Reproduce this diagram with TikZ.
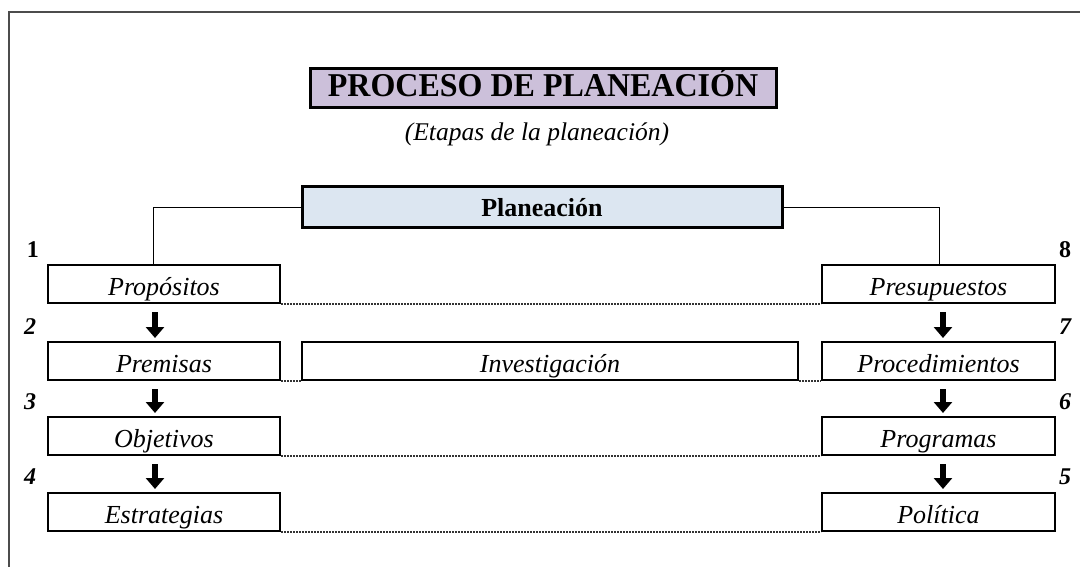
\documentclass[tikz,border=0pt]{standalone}
\usepackage{fontspec}
\setmainfont{Liberation Serif}
\usetikzlibrary{arrows.meta}
\definecolor{lavender}{HTML}{CCC0DA}
\definecolor{paleblue}{HTML}{DCE6F1}
\tikzset{
  stage/.style={draw,line width=2pt,fill=white,minimum width=232pt,minimum height=38pt,
    inner sep=0pt,text height=26pt,text depth=4pt,font=\fontsize{26}{30}\selectfont\itshape},
  link/.style={line width=2.4pt,dash pattern=on 2pt off 1pt,black!80},
  down/.style={line width=5.5pt,-{Triangle[width=18pt,length=11pt]}},
  num/.style={font=\fontsize{24}{28}\selectfont\bfseries\itshape}
}
\begin{document}
\begin{tikzpicture}[x=1pt,y=-1pt]
  \useasboundingbox (0,0) rectangle (1080,567);
  % frame:
  \draw[line width=1.5pt,black!70] (9,567) -- (9,12) -- (1080,12);
  % title:
  \node[draw,line width=3pt,fill=lavender,minimum width=466pt,minimum height=39pt,inner sep=0pt,
    text height=26pt,text depth=8pt,font=\fontsize{32}{36}\selectfont\bfseries] (title) at (543,88)
    {\scalebox{1}[1.04]{PROCESO DE PLANEACIÓN}};
  \node[font=\fontsize{25.5}{30}\selectfont\itshape] (sub) at (537,134) {(Etapas de la planeación)};
  % main box:
  \node[draw,line width=3pt,fill=paleblue,minimum width=480pt,minimum height=41pt,inner sep=0pt,
    text height=24pt,text depth=5pt,font=\fontsize{26}{30}\selectfont\bfseries] (plan) at (542,207.5) {Planeación};
  % left column:
  \node[stage] (L1) at (164,284) {Propósitos};
  \node[stage] (L2) at (164,361) {Premisas};
  \node[stage] (L3) at (164,436) {Objetivos};
  \node[stage] (L4) at (164,512) {Estrategias};
  % right column:
  \node[stage,minimum width=233pt] (R1) at (938.5,284) {Presupuestos};
  \node[stage,minimum width=233pt] (R2) at (938.5,361) {Procedimientos};
  \node[stage,minimum width=233pt] (R3) at (938.5,436) {Programas};
  \node[stage,minimum width=233pt] (R4) at (938.5,512) {Política};
  % middle:
  \node[stage,minimum width=496pt] (inv) at (550,361) {Investigación};
  % branches from the main box:
  \draw[line width=1pt] (plan.west) -| ([xshift=-11pt]L1.north);
  \draw[line width=1pt] (plan.east) -| ([xshift=0.5pt]R1.north);
  % dotted links:
  \draw[link] (L1.south east) -- (R1.south west);
  \draw[link] (L2.south east) -- (inv.south west);
  \draw[link] (inv.south east) -- (R2.south west);
  \draw[link] (L3.south east) -- (R3.south west);
  \draw[link] (L4.south east) -- (R4.south west);
  % arrows:
  \foreach \a/\b in {1/2,2/3,3/4}{
    \draw[down] ([shift={(-9,8)}]L\a.south) -- ([shift={(-9,-3)}]L\b.north);
    \draw[down] ([shift={(4.5,8)}]R\a.south) -- ([shift={(4.5,-3)}]R\b.north);
  }
  % step numbers:
  \node[num,font=\fontsize{24}{28}\selectfont\bfseries] (n1) at (33,250) {1};
  \node[num] (n2) at (30,327) {2};
  \node[num] (n3) at (30,402) {3};
  \node[num] (n4) at (30,477) {4};
  \node[num] (n5) at (1065,477) {5};
  \node[num] (n6) at (1065,402) {6};
  \node[num] (n7) at (1065,327) {7};
  \node[num,font=\fontsize{24}{28}\selectfont\bfseries] (n8) at (1065,250) {8};
\end{tikzpicture}
\end{document}
